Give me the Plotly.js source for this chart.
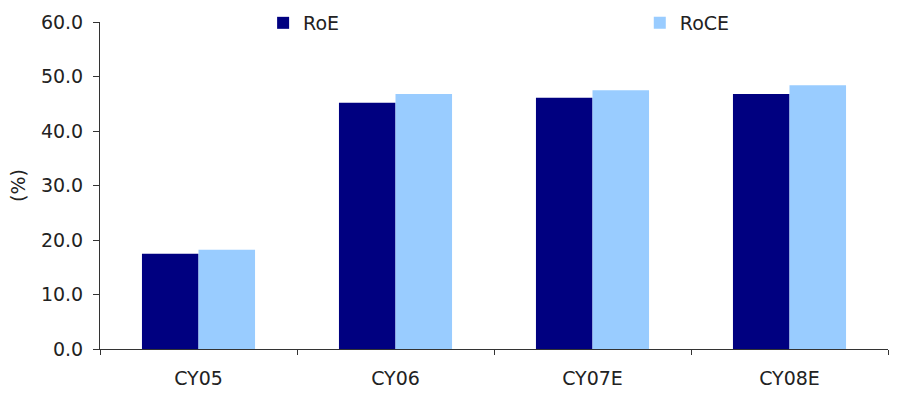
<!DOCTYPE html>
<html>
<head>
<meta charset="utf-8">
<script src="https://cdn.plot.ly/plotly-3.0.1.min.js"></script>
<style>
  html, body { margin: 0; padding: 0; background: #ffffff; }
  #chart { width: 897px; height: 396px; }
</style>
</head>
<body>
<div id="chart"></div>
<script>
// Return ratios by calendar year (E = estimate)
const years = ["CY05", "CY06", "CY07E", "CY08E"];
const roe = [17.5, 45.2, 46.1, 46.8];
const roce = [18.2, 46.8, 47.5, 48.4];
const yTicks = [0, 10, 20, 30, 40, 50, 60];

const textFont = { family: "DejaVu Sans, sans-serif", size: 19, color: "#222222" };

// Each series gets its own legend box so the two entries sit far apart
const traces = [
  { type: "bar", name: "RoE", x: years, y: roe, marker: { color: "#000080" }, legend: "legend" },
  { type: "bar", name: "RoCE", x: years, y: roce, marker: { color: "#99CCFF" }, legend: "legend2" }
];

const legendBase = {
  orientation: "h",
  yanchor: "middle",
  y: 0.997,
  xanchor: "left",
  bgcolor: "rgba(0,0,0,0)",
  borderwidth: 0,
  itemwidth: 30,
  font: textFont
};

const layout = {
  width: 897,
  height: 396,
  margin: { l: 100, r: 9, t: 22, b: 47, autoexpand: false },
  paper_bgcolor: "#ffffff",
  plot_bgcolor: "#ffffff",
  font: textFont,
  barmode: "group",
  bargap: 0.426,
  bargroupgap: 0,
  showlegend: true,
  legend: Object.assign({}, legendBase, { x: 0.207 }),
  legend2: Object.assign({}, legendBase, { x: 0.685 }),
  xaxis: {
    type: "category",
    range: [-0.5, 3.5],
    showline: true, linecolor: "#333333", linewidth: 1,
    ticks: "outside", tickson: "boundaries", ticklen: 5, tickcolor: "#333333",
    ticklabelstandoff: 12,
    showgrid: false, zeroline: false,
    tickfont: textFont
  },
  yaxis: {
    range: [0, 60],
    tickvals: yTicks,
    ticktext: yTicks.map(v => v.toFixed(1)),
    showline: true, linecolor: "#333333", linewidth: 1,
    ticks: "outside", ticklen: 6, tickcolor: "#333333",
    ticklabelstandoff: 6,
    showgrid: false, zeroline: false,
    tickfont: textFont,
    title: { text: "(%)", font: textFont, standoff: 10 }
  }
};

Plotly.newPlot("chart", traces, layout, { displayModeBar: false, staticPlot: true });
</script>
</body>
</html>
